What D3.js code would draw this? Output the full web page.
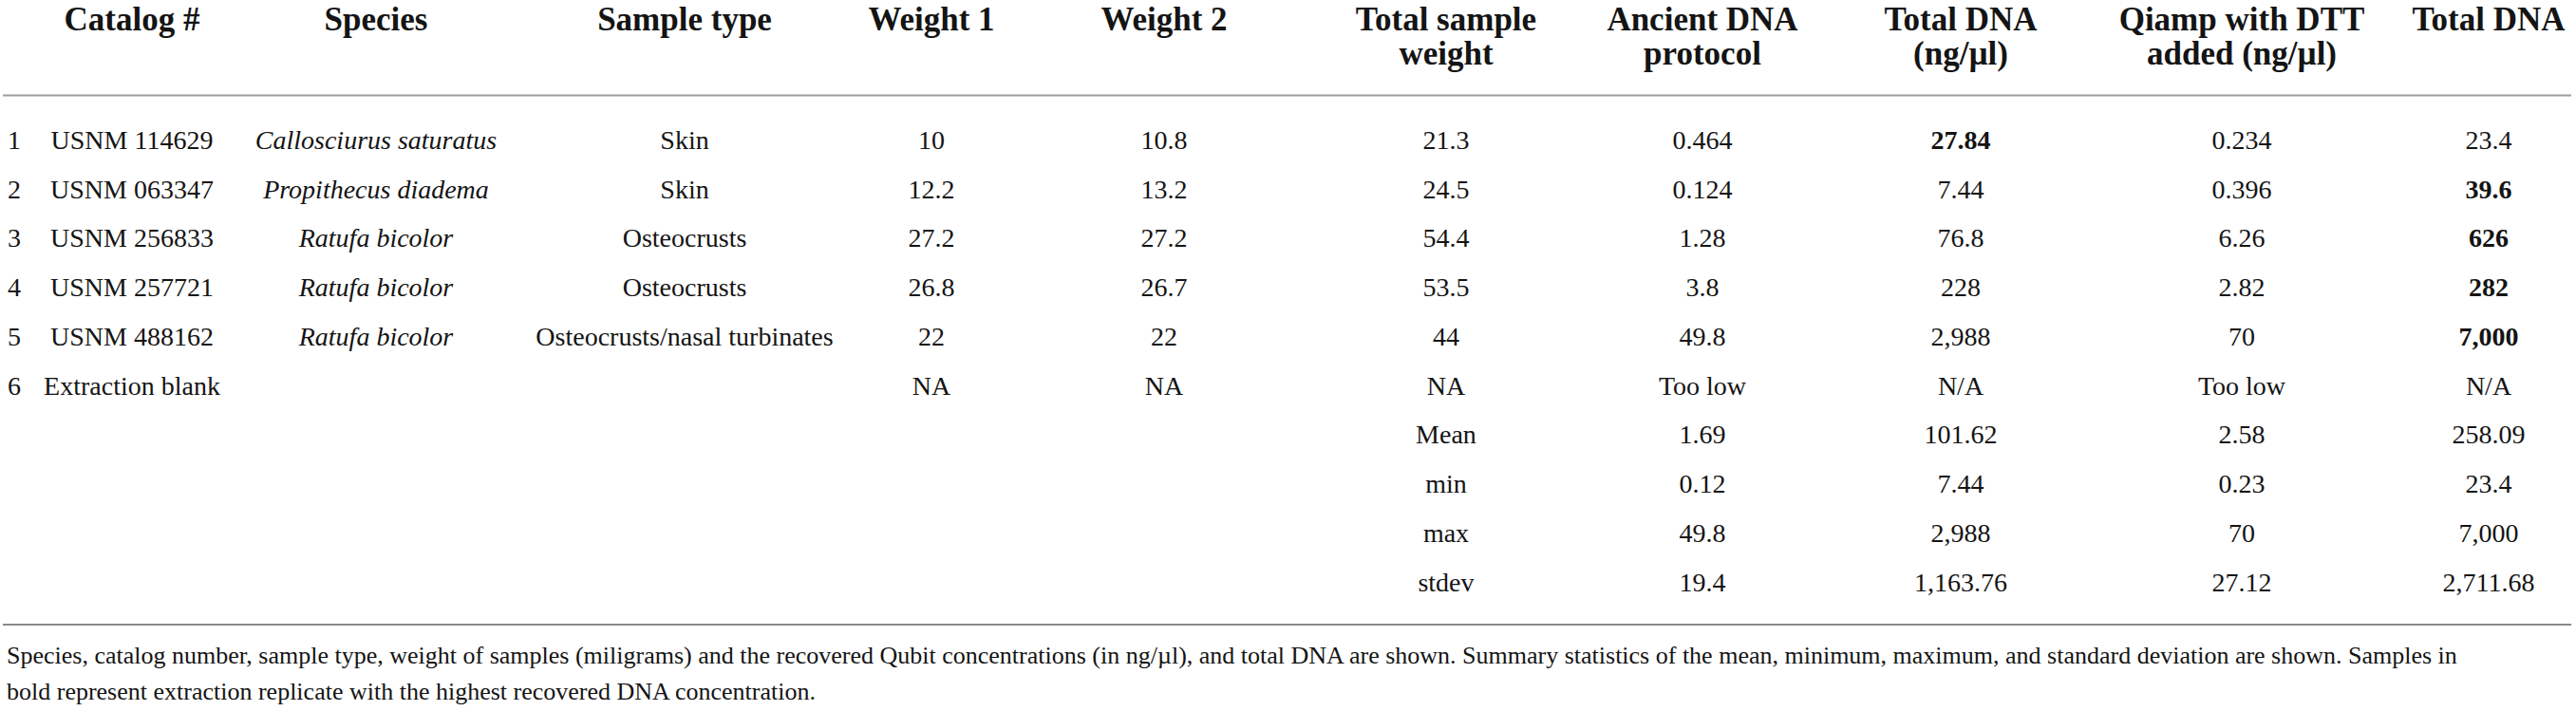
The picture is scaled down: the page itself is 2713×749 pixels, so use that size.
<!DOCTYPE html>
<html><head><meta charset="utf-8">
<script src="https://cdn.jsdelivr.net/npm/d3@7/dist/d3.min.js"></script>
<style>
html,body{margin:0;padding:0;background:#fff;}
text{font-family:"Liberation Serif","Times New Roman",serif;fill:#141414;}
</style></head><body>
<script>
// ---- data ----
const headers = [["Catalog #"],["Species"],["Sample type"],["Weight 1"],["Weight 2"],["Total sample","weight"],["Ancient DNA","protocol"],["Total DNA","(ng/µl)"],["Qiamp with DTT","added (ng/µl)"],["Total DNA"]];
const rowNums = ["1","2","3","4","5","6"];
const catalogs = ["USNM 114629","USNM 063347","USNM 256833","USNM 257721","USNM 488162","Extraction blank"];
const species = ["Callosciurus saturatus","Propithecus diadema","Ratufa bicolor","Ratufa bicolor","Ratufa bicolor",""];
const sampleTypes = ["Skin","Skin","Osteocrusts","Osteocrusts","Osteocrusts/nasal turbinates",""];
const weight1 = ["10","12.2","27.2","26.8","22","NA"];
const weight2 = ["10.8","13.2","27.2","26.7","22","NA"];
const totalWeight = ["21.3","24.5","54.4","53.5","44","NA","Mean","min","max","stdev"];
const ancientDNA = ["0.464","0.124","1.28","3.8","49.8","Too low","1.69","0.12","49.8","19.4"];
const totalDNA1 = ["27.84","7.44","76.8","228","2,988","N/A","101.62","7.44","2,988","1,163.76"];
const qiampDTT = ["0.234","0.396","6.26","2.82","70","Too low","2.58","0.23","70","27.12"];
const totalDNA2 = ["23.4","39.6","626","282","7,000","N/A","258.09","23.4","7,000","2,711.68"];
const boldTotal1 = [0];
const boldTotal2 = [1,2,3,4];
const caption = [
 "Species, catalog number, sample type, weight of samples (miligrams) and the recovered Qubit concentrations (in ng/µl), and total DNA are shown. Summary statistics of the mean, minimum, maximum, and standard deviation are shown. Samples in",
 "bold represent extraction replicate with the highest recovered DNA concentration."
];

// ---- layout ----
const W = 2713, H = 749;
const svg = d3.select("body").append("svg").attr("width", W).attr("height", H);

const colKeys = d3.range(10);
const colX = d3.scaleOrdinal().domain(colKeys).range([139,396,721,981,1226,1523,1793,2065,2361,2621]);
const rowY = d3.scalePoint().domain(d3.range(10)).range([157,622.5]);

// header
const hg = svg.append("g");
headers.forEach((lines,i)=>{
  const t = hg.append("text").attr("x", colX(i)).attr("y", 32)
    .attr("text-anchor","middle").attr("font-weight","bold").attr("font-size",35);
  lines.forEach((l,j)=>{
    t.append("tspan").attr("x", colX(i)).attr("y", 32 + j*36).text(l);
  });
});

// rules
svg.append("line").attr("x1",3).attr("x2",2708).attr("y1",100.5).attr("y2",100.5)
  .attr("stroke","#9c9c9c").attr("stroke-width",2);
svg.append("line").attr("x1",3).attr("x2",2708).attr("y1",658).attr("y2",658)
  .attr("stroke","#8a8a8a").attr("stroke-width",2);

const body = svg.append("g").attr("font-size",28);
function col(arr, ci, opts={}){
  body.selectAll(null).data(arr).enter().append("text")
    .attr("x", colX(ci)).attr("y",(d,i)=>rowY(i))
    .attr("text-anchor","middle")
    .attr("font-style", opts.italic ? "italic" : null)
    .attr("font-weight",(d,i)=> (opts.bold||[]).includes(i) ? "bold" : null)
    .text(d=>d);
}
body.selectAll(null).data(rowNums).enter().append("text")
  .attr("x",8).attr("y",(d,i)=>rowY(i)).text(d=>d);
col(catalogs,0);
col(species,1,{italic:true});
col(sampleTypes,2);
col(weight1,3);
col(weight2,4);
col(totalWeight,5);
col(ancientDNA,6);
col(totalDNA1,7,{bold:boldTotal1});
col(qiampDTT,8);
col(totalDNA2,9,{bold:boldTotal2});

// caption
svg.append("g").attr("font-size",26).selectAll(null).data(caption).enter().append("text")
  .attr("x",7).attr("y",(d,i)=>699 + i*38).text(d=>d);
</script>
</body></html>
